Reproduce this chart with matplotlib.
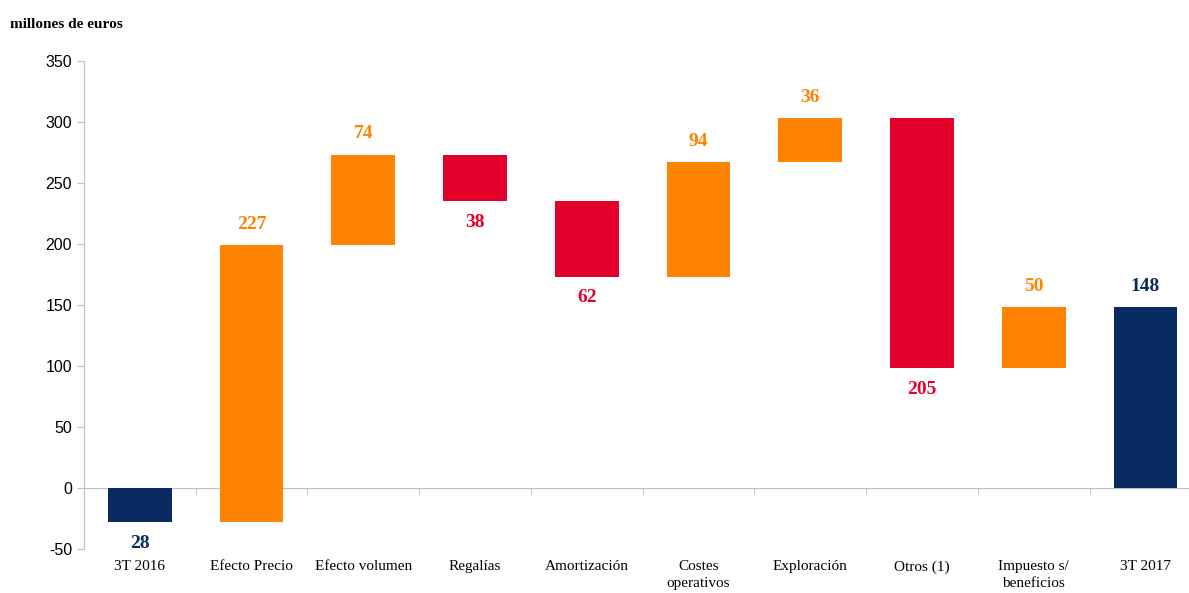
import numpy as np
import matplotlib
matplotlib.use("Agg")
import matplotlib.pyplot as plt

plt.rcParams["axes.unicode_minus"] = False

categories = ["3T 2016", "Efecto Precio", "Efecto volumen", "Regalías", "Amortización",
              "Costes\noperativos", "Exploración", "Otros (1)", "Impuesto s/\nbeneficios", "3T 2017"]
# signed changes; first and last are totals
changes = [-28, 227, 74, -38, -62, 94, 36, -205, 50, 148]
kinds = ["total", "up", "up", "down", "down", "up", "up", "down", "up", "total"]
labels = ["28", "227", "74", "38", "62", "94", "36", "205", "50", "148"]

colors = {"total": "#0A2B62", "up": "#FF8300", "down": "#E3002B"}

# build the floating bars
bottoms, heights = [], []
running = 0
for c, k in zip(changes, kinds):
    if k == "total":
        bottoms.append(0)
        heights.append(c)
        running = c
    else:
        bottoms.append(running)
        heights.append(c)
        running += c

fig = plt.figure(figsize=(11.89, 5.93), dpi=100)
ax = fig.add_axes([84 / 1189, 44 / 593, 1 - 84 / 1189, 488 / 593])

x = np.arange(len(categories))
bar_cols = [colors[k] for k in kinds]
ax.bar(x, heights, bottom=bottoms, width=0.57, color=bar_cols, zorder=3)

for xi, b, h, k, lab in zip(x, bottoms, heights, kinds, labels):
    top = max(b, b + h)
    low = min(b, b + h)
    if k == "down" or h < 0:
        ax.annotate(lab, (xi, low), xytext=(0, -9), textcoords="offset points",
                    ha="center", va="top", fontsize=14, fontweight="bold",
                    color=colors[k], family="Liberation Serif")
    else:
        ax.annotate(lab, (xi, top), xytext=(0, 9), textcoords="offset points",
                    ha="center", va="bottom", fontsize=14, fontweight="bold",
                    color=colors[k], family="Liberation Serif")

ax.set_ylim(-50, 350)
ax.set_yticks(np.arange(-50, 351, 50))
ax.set_xlim(-0.5, 9.39)

for s in ["top", "right"]:
    ax.spines[s].set_visible(False)
ax.spines["left"].set_color("#BFBFBF")
ax.spines["bottom"].set_color("#BFBFBF")
ax.spines["bottom"].set_position(("data", 0))

ax.set_xticks(x)
ax.set_xticklabels(categories, family="Liberation Serif", fontsize=11, va="top",
                   linespacing=1.35)
ax.tick_params(axis="x", length=0, pad=52)
ax.set_xticks(x[:-1] + 0.5, minor=True)
ax.tick_params(axis="x", which="minor", length=5, color="#BFBFBF")
ax.tick_params(axis="y", length=5, color="#BFBFBF", labelsize=11.5)
for t in ax.get_yticklabels():
    t.set_family("Liberation Sans")

fig.text(10 / 1189, 1 - 25 / 593, "millones de euros", family="Liberation Serif",
         fontweight="bold", fontsize=11, va="center", ha="left")

fig.savefig("out.png", dpi=100)
